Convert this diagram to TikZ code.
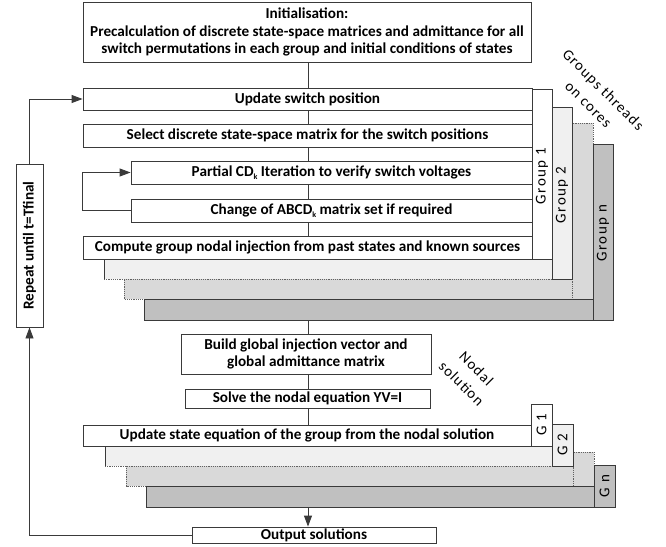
\documentclass[tikz,border=0pt]{standalone}
\usepackage{fontspec}
\setmainfont{Carlito}
\usetikzlibrary{arrows.meta}
\definecolor{ln}{HTML}{3A3A3A}
\definecolor{gtwo}{HTML}{F0F0F0}
\definecolor{gthree}{HTML}{D9D9D9}
\definecolor{gfour}{HTML}{C0C0C0}
\newcommand\subk{\raisebox{-0.35ex}{\fontsize{8}{8}\selectfont k}}
\tikzset{
  box/.style={draw=ln, line width=0.9pt, fill=white, inner sep=0pt, align=center,
    font=\fontsize{15.2}{17.7}\selectfont\bfseries},
  conn/.style={draw=ln, line width=0.9pt},
  arr/.style={conn, -{Triangle[length=11pt,width=8pt]}},
  solidedge/.style={draw=ln, line width=0.9pt},
  dotedge/.style={draw=ln!80, line width=0.8pt, dash pattern=on 1.2pt off 1pt},
  glabel/.style={rotate=90, inner sep=0pt,
    font=\fontsize{15}{18}\selectfont\addfontfeature{LetterSpace=10}},
  diaglabel/.style={rotate=-45, inner sep=0pt, align=center,
    font=\fontsize{15}{21}\selectfont\addfontfeature{LetterSpace=8}},
}
\begin{document}
\begin{tikzpicture}[x=1pt,y=-1pt]
\useasboundingbox (0,0) rectangle (666,546);

% ---------- upper group stack (back to front) ----------
% group n
\filldraw[solidedge, fill=gfour] (144,280) rectangle (593,320);
\filldraw[solidedge, fill=gfour] (593,144) rectangle (613,320);
% group 3 (dashed)
\filldraw[dotedge, fill=gthree] (124,260) rectangle (572,299);
\filldraw[dotedge, fill=gthree] (572,123) rectangle (593,299);
\draw[solidedge] (144,299) -- (593,299);
\draw[solidedge] (593,144) -- (593,320);
% group 2
\fill[gtwo] (104,240) rectangle (552,279);
\draw[solidedge] (104,240) -- (104,279);
\draw[dotedge] (104,279) -- (552,279);
\filldraw[solidedge, fill=gtwo] (552,107) rectangle (572,279);
% group 1
\fill[white] (83,89) rectangle (532,259);
\filldraw[solidedge, fill=white] (532,89) rectangle (552,259);

\node[glabel] (lg1) at (542,176) {Group 1};
\node[glabel] (lg2) at (562,195) {Group 2};
\node[glabel] (lgn) at (603,233) {Group n};

% ---------- lower group stack ----------
\filldraw[solidedge, fill=gfour] (146,470) rectangle (594,507);
\filldraw[solidedge, fill=gfour] (594,465) rectangle (615,507);
\filldraw[dotedge, fill=gthree] (126,450) rectangle (573,486);
\filldraw[dotedge, fill=gthree] (573,452) rectangle (594,486);
\draw[solidedge] (146,486) -- (594,486);
\draw[solidedge] (594,465) -- (594,507);
\fill[gtwo] (105,430) rectangle (552,466);
\draw[solidedge] (105,430) -- (105,466);
\draw[dotedge] (105,466) -- (552,466);
\filldraw[solidedge, fill=gtwo] (552,424) rectangle (573,466);
\filldraw[solidedge, fill=white] (531,404) rectangle (552,446);

\node[glabel] (t1) at (541.5,425) {G 1};
\node[glabel] (t2) at (562.5,445) {G 2};
\node[glabel] (tn) at (604.5,486) {G n};

% ---------- boxes ----------
\node[box, minimum width=448pt, minimum height=60pt] (init) at (307,32)
  {Initialisation:\\Precalculation of discrete state-space matrices and admittance for all\\switch permutations in each group and initial conditions of states};
\node[box, minimum width=449pt, minimum height=22pt] (upd) at (307.5,99) {Update switch position};
\node[box, minimum width=449pt, minimum height=23pt] (sel) at (307.5,135.5) {Select discrete state-space matrix for the switch positions};
\node[box, minimum width=401pt, minimum height=23pt] (par) at (331.5,172.5) {Partial CD\subk{} Iteration to verify switch voltages};
\node[box, minimum width=401pt, minimum height=23pt] (chg) at (331.5,210.5) {Change of ABCD\subk{} matrix set if required};
\node[box, minimum width=449pt, minimum height=23pt] (cmp) at (307.5,247.5) {Compute group nodal injection from past states and known sources};

\node[box, minimum width=250pt, minimum height=40pt] (build) at (306,354) {Build global injection vector and\\global admittance matrix};
\node[box, minimum width=245pt, minimum height=19pt] (solve) at (307.5,398.5) {Solve the nodal equation YV=I};
\node[box, minimum width=448pt, minimum height=21pt] (ust) at (307,435.5) {Update state equation of the group from the nodal solution};
\node[box, minimum width=244pt, minimum height=16pt] (out) at (314,535) {Output solutions};
\node[box, minimum width=27pt, minimum height=163pt] (rep) at (29.5,245.5) {};
\node[rotate=90, inner sep=0pt, font=\fontsize{15.2}{17.7}\selectfont\bfseries] (reptxt) at (rep.center) {Repeat until t=Tfinal};

\node[diaglabel] (gtc) at (596,97) {Groups threads\\on cores};
\node[diaglabel] (nsol) at (469,376) {Nodal\\solution};

% ---------- connectors ----------
\coordinate (sp) at (308,0);
\coordinate (gbot) at (308,320);
\coordinate (lbot) at (308,507);
\draw[conn] (init.south -| sp) -- (upd.north -| sp);
\draw[conn] (upd.south -| sp) -- (sel.north -| sp);
\draw[conn] (sel.south -| sp) -- (par.north -| sp);
\draw[conn] (par.south -| sp) -- (chg.north -| sp);
\draw[conn] (chg.south -| sp) -- (cmp.north -| sp);
\draw[conn] (gbot) -- (build.north -| sp);
\draw[conn] (build.south -| sp) -- (solve.north -| sp);
\draw[conn] (solve.south -| sp) -- (ust.north -| sp);
\draw[arr] (lbot) -- (out.north -| sp);
\draw[arr] (chg.west) -- (sel.west |- chg.west) -- (sel.west |- par.west) -- (par.west);
\draw[arr] (out.west) -- (rep.south |- out.west) -- (rep.south);
\draw[arr] (rep.north) -- (rep.north |- upd.west) -- (upd.west);
\end{tikzpicture}
\end{document}
